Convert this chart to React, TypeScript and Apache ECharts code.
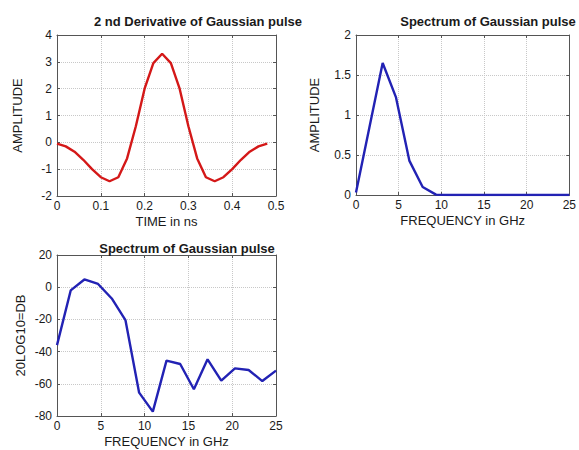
import React, { useEffect, useRef } from "react";
import * as echarts from "echarts";

const pulseTime = [0, 0.02, 0.04, 0.06, 0.08, 0.1, 0.12, 0.14, 0.16, 0.18, 0.2, 0.22, 0.24, 0.26, 0.28, 0.3, 0.32, 0.34, 0.36, 0.38, 0.4, 0.42, 0.44, 0.46, 0.48];
const pulseAmp = [-0.05, -0.15, -0.35, -0.65, -1.0, -1.3, -1.45, -1.3, -0.6, 0.6, 2.0, 2.95, 3.3, 2.95, 2.0, 0.6, -0.6, -1.3, -1.45, -1.3, -1.0, -0.65, -0.35, -0.15, -0.05];

const freqGHz = [0, 1.5625, 3.125, 4.6875, 6.25, 7.8125, 9.375, 10.9375, 12.5, 14.0625, 15.625, 17.1875, 18.75, 20.3125, 21.875, 23.4375, 25];
const specAmp = [0.03, 0.84, 1.65, 1.22, 0.43, 0.1, 0.005, 0.0, 0.0, 0.0, 0.0, 0.0, 0.0, 0.0, 0.0, 0.0, 0.0];
const specDb = [-36, -2, 4.8, 2, -7, -20.4, -65.5, -77.3, -45.6, -47.7, -63.4, -44.8, -58, -50.4, -51.4, -58.3, -51.8];

const titles = ["2 nd Derivative of Gaussian pulse", "Spectrum of Gaussian pulse", "Spectrum of Gaussian pulse"];
const xNames = ["TIME in ns", "FREQUENCY in GHz", "FREQUENCY in GHz"];
const yNames = ["AMPLITUDE", "AMPLITUDE", "20LOG10=DB"];

const FONT = "Liberation Sans, Arial, sans-serif";
const TXT = "#1a1a1a";
const FRAME = "#555";

export default function App() {
  const ref = useRef<HTMLDivElement>(null);
  useEffect(() => {
    if (!ref.current) return;
    const chart = echarts.init(ref.current, undefined, { renderer: "svg" });

    const grids = [
      { left: 57, top: 35, width: 219, height: 161 },
      { left: 356, top: 35, width: 220, height: 160 },
      { left: 57, top: 255, width: 219, height: 161 },
    ];
    const xr = [
      { min: 0, max: 0.5, interval: 0.1 },
      { min: 0, max: 25, interval: 5 },
      { min: 0, max: 25, interval: 5 },
    ];
    const yr = [
      { min: -2, max: 4, interval: 1 },
      { min: 0, max: 2, interval: 0.5 },
      { min: -80, max: 20, interval: 20 },
    ];
    const yGaps = [33, 35, 30];

    const xAxis: any[] = [];
    const yAxis: any[] = [];
    grids.forEach((_, i) => {
      xAxis.push({
        type: "value",
        gridIndex: i,
        ...xr[i],
        position: "bottom",
        name: xNames[i],
        nameLocation: "middle",
        nameGap: 19,
        nameTextStyle: { fontFamily: FONT, fontSize: 13, color: TXT },
        axisLine: { show: true, onZero: false, lineStyle: { color: FRAME, width: 1 } },
        axisTick: { show: true, inside: true, length: 3, lineStyle: { color: FRAME } },
        axisLabel: { fontFamily: FONT, fontSize: 12, color: TXT, margin: 4 },
        splitLine: { show: true, lineStyle: { color: "#c8c8c8", type: "dotted" } },
      });
      xAxis.push({
        type: "value",
        gridIndex: i,
        ...xr[i],
        position: "top",
        axisLine: { show: true, onZero: false, lineStyle: { color: FRAME, width: 1 } },
        axisTick: { show: true, inside: true, length: 3, lineStyle: { color: FRAME } },
        axisLabel: { show: false },
        splitLine: { show: false },
      });
      yAxis.push({
        type: "value",
        gridIndex: i,
        ...yr[i],
        position: "left",
        name: yNames[i],
        nameLocation: "middle",
        nameGap: yGaps[i],
        nameTextStyle: { fontFamily: FONT, fontSize: 13, color: TXT },
        axisLine: { show: true, onZero: false, lineStyle: { color: FRAME, width: 1 } },
        axisTick: { show: true, inside: true, length: 3, lineStyle: { color: FRAME } },
        axisLabel: { fontFamily: FONT, fontSize: 12, color: TXT, margin: 5 },
        splitLine: { show: true, lineStyle: { color: "#c8c8c8", type: "dotted" } },
      });
      yAxis.push({
        type: "value",
        gridIndex: i,
        ...yr[i],
        position: "right",
        axisLine: { show: true, onZero: false, lineStyle: { color: FRAME, width: 1 } },
        axisTick: { show: true, inside: true, length: 3, lineStyle: { color: FRAME } },
        axisLabel: { show: false },
        splitLine: { show: false },
      });
    });

    const titleStyle = { fontFamily: FONT, fontSize: 13, fontWeight: "bold" as const, color: TXT };

    chart.setOption({
      animation: false,
      backgroundColor: "#ffffff",
      title: [
        { text: titles[0], left: 193, top: 10, textAlign: "center", textStyle: titleStyle },
        { text: titles[1], left: 483, top: 10, textAlign: "center", textStyle: titleStyle },
        { text: titles[2], left: 182, top: 237, textAlign: "center", textStyle: titleStyle },
      ],
      grid: grids,
      xAxis,
      yAxis,
      series: [
        {
          type: "line",
          xAxisIndex: 0,
          yAxisIndex: 0,
          data: pulseTime.map((t, k) => [t, pulseAmp[k]]),
          showSymbol: false,
          lineStyle: { color: "#d41818", width: 2.4 },
        },
        {
          type: "line",
          xAxisIndex: 2,
          yAxisIndex: 2,
          data: freqGHz.map((f, k) => [f, specAmp[k]]),
          showSymbol: false,
          lineStyle: { color: "#2222b4", width: 2.4 },
        },
        {
          type: "line",
          xAxisIndex: 4,
          yAxisIndex: 4,
          data: freqGHz.map((f, k) => [f, specDb[k]]),
          showSymbol: false,
          lineStyle: { color: "#2222b4", width: 2.4 },
        },
      ],
    });
    return () => chart.dispose();
  }, []);
  return <div ref={ref} style={{ position: "fixed", left: 0, top: 0, width: 579, height: 450 }} />;
}
